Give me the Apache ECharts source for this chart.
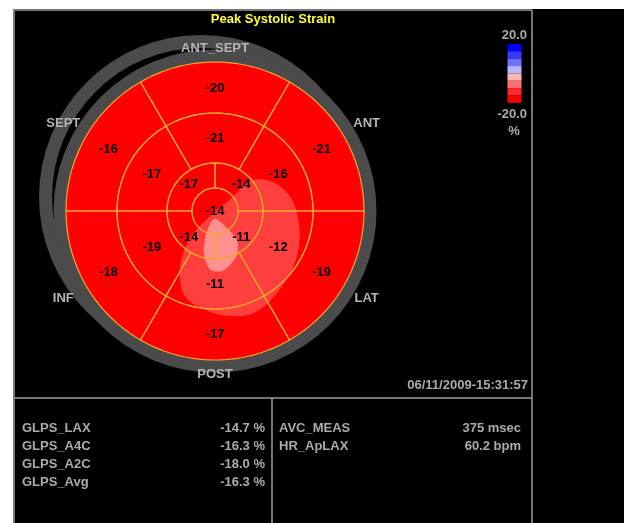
<!DOCTYPE html>
<html><head><meta charset="utf-8">
<script src="https://cdn.jsdelivr.net/npm/echarts@6/dist/echarts.min.js"></script>
<style>html,body{margin:0;padding:0;background:#fff}#c{width:624px;height:523px}</style>
</head><body><div id="c"></div>
<script>
// ---------- data ----------
// segment values, clockwise starting at the top (ANT_SEPT)
const basalValues = [-20, -21, -19, -17, -18, -16];
const midValues = [-21, -16, -12, -11, -19, -17];
// apical quadrants, clockwise starting at upper-right
const apicalValues = [-14, -11, -14, -17];
const apexValue = [-14];
const wallNames = ['ANT_SEPT', 'ANT', 'LAT', 'POST', 'INF', 'SEPT'];
// outlines of the lighter strain zones: [radius, angle(deg clockwise from top)]
const lightZone = [[46,49],[60,59],[71,71],[79,84],[86,101],[92,115],[97,128],[102,141],[107,152],[109,162],[105,175],[98,188],[91,199],[75,208],[56,216],[35,223],[14,225],[7,56],[26,51]];
const paleZone = [[8,180],[21,145],[36,143],[47,151],[54,161],[60,172],[60,182],[55,188],[43,195],[31,199],[18,202]];
const scaleTicks = ['20.0', '-20.0'];
const scaleUnit = '%';
const scaleMin = -20, scaleMax = 20;
const scaleColors = ['#ff0000', '#ff2a2a', '#ff7070', '#ffb4b4', '#b4b4ff', '#7070ff', '#3838ff', '#0000ff']; // low -> high
const titleText = 'Peak Systolic Strain';
const timestamp = '06/11/2009-15:31:57';
const glpsNames = ['GLPS_LAX', 'GLPS_A4C', 'GLPS_A2C', 'GLPS_Avg'];
const glpsValues = [-14.7, -16.3, -18.0, -16.3];
const measNames = ['AVC_MEAS', 'HR_ApLAX'];
const measValues = [375, 60.2];
const measUnits = ['msec', 'bpm'];

// ---------- layout ----------
const FONT = '"Liberation Sans", Arial, sans-serif';
const GREY = '#ababab';
const rings = [
  { vals: apexValue, r0: 0, r1: 23, start: 0, lr: 0 },
  { vals: apicalValues, r0: 23, r1: 48, start: 0, lr: 37 },
  { vals: midValues, r0: 48, r1: 98, start: -30, lr: 73 },
  { vals: basalValues, r0: 98, r1: 149, start: -30, lr: 123 }
];
const segData = [];
rings.forEach((rg, ri) => rg.vals.forEach((v, si) => segData.push([ri, si, v])));

function norm(a) { return ((a % 360) + 360) % 360; }
function segPoints(api, ri, si) {
  const rg = rings[ri];
  const span = 360 / rg.vals.length;
  const a0 = rg.start + si * span, a1 = a0 + span;
  const steps = Math.max(4, Math.ceil(span / 2));
  const pts = [];
  for (let k = 0; k <= steps; k++) pts.push(api.coord([rg.r1, norm(a0 + span * k / steps)]));
  if (span < 360) {
    if (rg.r0 > 0) { for (let k = steps; k >= 0; k--) pts.push(api.coord([rg.r0, norm(a0 + span * k / steps)])); }
    else pts.push(api.coord([0, 0]));
  }
  return pts;
}
function zoneRender(arr, color) {
  return function (params, api) {
    if (params.dataIndexInside !== 0) return null;
    const pts = [];
    for (let i = 0; i < arr.length; i++) pts.push(api.coord([api.value(0, i), api.value(1, i)]));
    return { type: 'polygon', shape: { points: pts, smooth: 0.35 }, style: { fill: color } };
  };
}
function txt(text, x, y, align, color, size) {
  return { type: 'text', x: x, y: y, z: 10, style: { text: text, fill: color || GREY, font: 'bold ' + (size || 13) + 'px ' + FONT, align: align || 'left', verticalAlign: 'middle' } };
}
function line(x1, y1, x2, y2) {
  return { type: 'line', z: 1, shape: { x1, y1, x2, y2 }, style: { stroke: '#9c9c9c', lineWidth: 1.5 } };
}

const graphics = [
  { type: 'rect', z: 0, shape: { x: 13, y: 9, width: 611, height: 514 }, style: { fill: '#000' } },
  { type: 'ring', z: 0, shape: { cx: 201, cy: 197, r: 162, r0: 149 }, style: { fill: '#4b4b4b' } },
  { type: 'ring', z: 0, shape: { cx: 215, cy: 211, r: 161.5, r0: 145 }, style: { fill: '#4b4b4b' } },
  line(14, 9.5, 14, 523), line(13.5, 10, 532, 10), line(532, 10, 532, 523),
  line(14, 398, 532, 398), line(272, 398, 272, 523),
  txt(titleText, 273, 19, 'center', '#ffff33'),
  txt(timestamp, 528, 385, 'right'),
  txt(scaleTicks[0], 527, 35, 'right'),
  txt(scaleTicks[1], 527, 114, 'right'),
  txt(scaleUnit, 514, 131, 'center')
];
glpsNames.forEach((n, i) => {
  graphics.push(txt(n, 22, 428 + i * 18.2));
  graphics.push(txt(glpsValues[i].toFixed(1) + ' %', 265, 428 + i * 18.2, 'right'));
});
measNames.forEach((n, i) => {
  graphics.push(txt(n, 279, 428 + i * 18.2));
  graphics.push(txt(measValues[i] + ' ' + measUnits[i], 521, 428 + i * 18.2, 'right'));
});

const step = (scaleMax - scaleMin) / scaleColors.length;
const chart = echarts.init(document.getElementById('c'), null, { renderer: 'canvas' });
chart.setOption({
  backgroundColor: '#ffffff',
  animation: false,
  polar: { center: [215, 211], radius: 149 },
  radiusAxis: { type: 'value', min: 0, max: 149, show: false },
  angleAxis: { type: 'value', min: 0, max: 360, startAngle: 90, clockwise: true, show: false },
  visualMap: {
    type: 'piecewise', seriesIndex: [], orient: 'vertical', right: 102.5, top: 44, padding: 0,
    itemWidth: 14, itemHeight: 7.35, itemGap: 0, itemSymbol: 'rect', showLabel: false,
    selectedMode: false, hoverLink: false,
    pieces: scaleColors.map((c, i) => ({ min: scaleMin + i * step, max: scaleMin + (i + 1) * step, color: c }))
  },
  graphic: { elements: graphics },
  series: [
    { type: 'custom', coordinateSystem: 'polar', z: 2, silent: true, data: segData, encode: { radius: 0, angle: 1 },
      renderItem: (p, api) => ({ type: 'polygon', shape: { points: segPoints(api, api.value(0), api.value(1)) }, style: { fill: '#ff0000' } }) },
    { type: 'custom', coordinateSystem: 'polar', z: 3, silent: true, data: lightZone, encode: { radius: 0, angle: 1 },
      renderItem: zoneRender(lightZone, '#ff3e3e') },
    { type: 'custom', coordinateSystem: 'polar', z: 3, silent: true, data: paleZone, encode: { radius: 0, angle: 1 },
      renderItem: zoneRender(paleZone, '#ff9090') },
    { type: 'custom', coordinateSystem: 'polar', z: 4, silent: true, data: segData, encode: { radius: 0, angle: 1 },
      renderItem: (p, api) => ({ type: 'polygon', shape: { points: segPoints(api, api.value(0), api.value(1)) }, style: { fill: 'none', stroke: '#f2a62a', lineWidth: 1.2 } }) },
    { type: 'custom', coordinateSystem: 'polar', z: 5, silent: true, data: segData, encode: { radius: 0, angle: 1 },
      renderItem: (p, api) => {
        const rg = rings[api.value(0)];
        const span = 360 / rg.vals.length;
        const pt = api.coord([rg.lr, norm(rg.start + (api.value(1) + 0.5) * span)]);
        return { type: 'text', x: pt[0], y: pt[1], style: { text: String(api.value(2)), fill: '#000', font: 'bold 13px ' + FONT, align: 'center', verticalAlign: 'middle' } };
      } },
    { type: 'custom', coordinateSystem: 'polar', z: 5, silent: true, data: wallNames.map((n, i) => [i, i]), encode: { radius: 0, angle: 1 },
      renderItem: (p, api) => {
        const idx = api.value(0);
        const ang = idx * 360 / wallNames.length;
        const r = 163 + 14 * Math.abs(Math.sin(ang * Math.PI / 180));
        const pt = api.coord([r, ang]);
        return { type: 'text', x: pt[0], y: pt[1], style: { text: wallNames[idx], fill: '#b4b4b4', font: 'bold 13px ' + FONT, align: 'center', verticalAlign: 'middle' } };
      } }
  ]
});
</script></body></html>
